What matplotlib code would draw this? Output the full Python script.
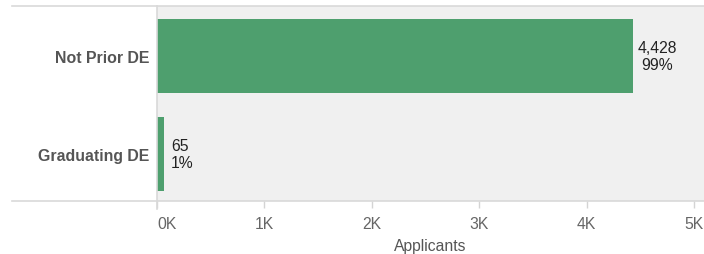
import matplotlib.pyplot as plt

plt.rcParams['font.family'] = ['Liberation Sans', 'DejaVu Sans']

# data
categories = ['Not Prior DE', 'Graduating DE']
applicants = [4428, 65]
shares = ['99%', '1%']
xticks = [0, 1000, 2000, 3000, 4000, 5000]
xtick_labels = ['0K', '1K', '2K', '3K', '4K', '5K']

W, H = 704, 255
fig = plt.figure(figsize=(W / 100, H / 100), dpi=100)
left, right, top, bottom = 157, 704, 7, 202
ax = fig.add_axes([left / W, 1 - bottom / H, (right - left) / W, (bottom - top) / H])
ax.set_facecolor('#f0f0f0')

pos = list(range(len(categories)))
ax.barh(pos, applicants, height=0.755, color='#4e9f6e', zorder=2)

ax.set_xlim(0, 5000 * (right - left) / (694 - left))
ax.set_ylim(1.48, -0.51)

# value labels
for i, (v, s) in enumerate(zip(applicants, shares)):
    if v > 1000:
        ax.annotate(f'{v:,}\n{s}', (v, i), xytext=(5, 0), textcoords='offset pixels',
                    ha='left', va='center', ma='center', fontsize=11.3, color='#222222',
                    linespacing=1.1)
    else:
        ax.annotate(f'{v:,}\n{s}', (v, i), xytext=(7, 0), textcoords='offset pixels',
                    ha='left', va='center', ma='left', fontsize=11.3, color='#222222',
                    linespacing=1.1)

for sp in ax.spines.values():
    sp.set_visible(False)

ax.set_yticks(pos)
ax.set_yticklabels(categories, fontsize=11.4, fontweight='bold', color='#555555')
ax.tick_params(axis='y', length=0, pad=5.5)

ax.set_xticks(xticks)
ax.set_xticklabels(xtick_labels, fontsize=11.3, color='#666666')
ax.tick_params(axis='x', length=5, color='#d4d4d4', width=1, pad=5.5)
ax.get_xticklabels()[0].set_horizontalalignment('left')
ax.set_xlabel('Applicants', fontsize=11.3, color='#555555', labelpad=5)

# frame lines
ext = (left - 12) / (right - left)
lc = '#d9d9d9'
ax.plot([-ext, 1], [1, 1], transform=ax.transAxes, color=lc, lw=1.2, clip_on=False)
ax.plot([-ext, 1], [0, 0], transform=ax.transAxes, color=lc, lw=1.2, clip_on=False)
ax.plot([0, 0], [1, -8 / (bottom - top)], transform=ax.transAxes, color=lc, lw=1.2,
        clip_on=False)

fig.savefig('out.png', dpi=100)
